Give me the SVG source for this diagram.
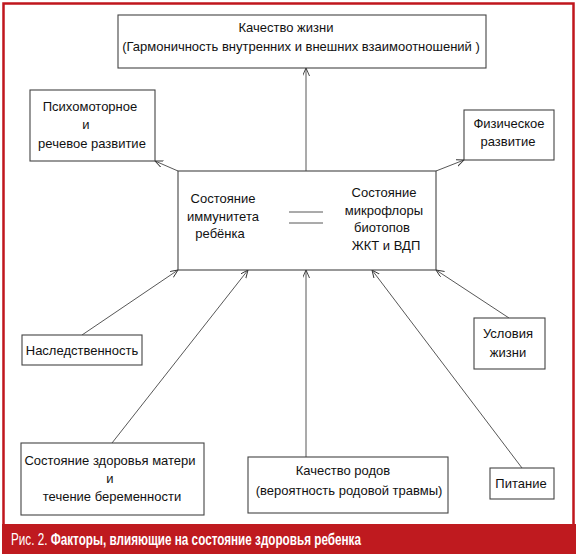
<svg xmlns="http://www.w3.org/2000/svg" width="579" height="554" viewBox="0 0 579 554">
<defs>
<marker id="arr" markerWidth="10" markerHeight="8" refX="8" refY="3.5" orient="auto" markerUnits="userSpaceOnUse">
<path d="M0,0 L8,3.5 L0,7" fill="none" stroke="#333" stroke-width="0.9"/>
</marker>
</defs>
<style>
.box{fill:#fff;stroke:#444;stroke-width:1.1}
.t{font-family:"Liberation Sans",Arial,sans-serif;font-size:13px;fill:#111;text-anchor:middle}
.c{stroke:#444;stroke-width:0.9;fill:none;marker-end:url(#arr)}
.cap{font-family:"Liberation Sans",Arial,sans-serif;font-size:16.5px;fill:#fff}
</style>
<rect x="0" y="0" width="579" height="554" fill="#fff"/>
<rect x="3.5" y="3.5" width="570" height="530" fill="#fff" stroke="#c0161d" stroke-width="2.5"/>
<rect x="2" y="524" width="574" height="30" fill="#bf1a1f"/>
<text class="cap" transform="scale(0.71,1)" x="15.5" y="545">Рис. 2. <tspan font-weight="bold">Факторы, влияющие на состояние здоровья ребенка</tspan></text>

<g id="connectors">
<line class="c" x1="306" y1="171" x2="306" y2="68"/>
<line class="c" x1="178" y1="171" x2="155" y2="161"/>
<line class="c" x1="436" y1="171" x2="464" y2="160"/>
<line class="c" x1="82" y1="335" x2="178" y2="270"/>
<line class="c" x1="112" y1="443" x2="248" y2="270"/>
<line class="c" x1="306" y1="457" x2="306" y2="270"/>
<line class="c" x1="522" y1="468" x2="372" y2="270"/>
<line class="c" x1="509" y1="318" x2="436" y2="270"/>
</g>

<g id="quality">
<rect class="box" x="118" y="15" width="368" height="53"/>
<text class="t" x="286" y="32">Качество жизни</text>
<text class="t" x="301" y="51">(Гармоничность внутренних и внешних взаимоотношений )</text>
</g>
<g id="psycho">
<rect class="box" x="30" y="90" width="125" height="71"/>
<text class="t" x="90" y="111">Психомоторное</text>
<text class="t" x="86" y="129">и</text>
<text class="t" x="92" y="148">речевое развитие</text>
</g>
<g id="physical">
<rect class="box" x="464" y="110" width="90" height="50"/>
<text class="t" x="509" y="128">Физическое</text>
<text class="t" x="508" y="146">развитие</text>
</g>
<g id="center">
<rect class="box" x="178" y="171" width="258" height="99"/>
<text class="t" x="223" y="203">Состояние</text>
<text class="t" x="223" y="221">иммунитета</text>
<text class="t" x="220" y="238">ребёнка</text>
<line x1="289" y1="212" x2="323" y2="212" stroke="#444" stroke-width="0.9"/>
<line x1="289" y1="223" x2="323" y2="223" stroke="#444" stroke-width="0.9"/>
<text class="t" x="384" y="197">Состояние</text>
<text class="t" x="384" y="215">микрофлоры</text>
<text class="t" x="382" y="232">биотопов</text>
<text class="t" x="386" y="250">ЖКТ и ВДП</text>
</g>
<g id="heredity">
<rect class="box" x="22" y="335" width="120" height="30"/>
<text class="t" x="82" y="355">Наследственность</text>
</g>
<g id="living">
<rect class="box" x="474" y="318" width="71" height="51"/>
<text class="t" x="508" y="338">Условия</text>
<text class="t" x="508" y="357">жизни</text>
</g>
<g id="mother">
<rect class="box" x="21" y="443" width="183" height="72"/>
<text class="t" x="110" y="465">Состояние здоровья матери</text>
<text class="t" x="110" y="483">и</text>
<text class="t" x="112" y="501">течение беременности</text>
</g>
<g id="birth">
<rect class="box" x="248" y="457" width="200" height="56"/>
<text class="t" x="343" y="475">Качество родов</text>
<text class="t" x="349" y="495">(вероятность родовой травмы)</text>
</g>
<g id="nutrition">
<rect class="box" x="490" y="468" width="64" height="31"/>
<text class="t" x="521" y="488">Питание</text>
</g>
</svg>
